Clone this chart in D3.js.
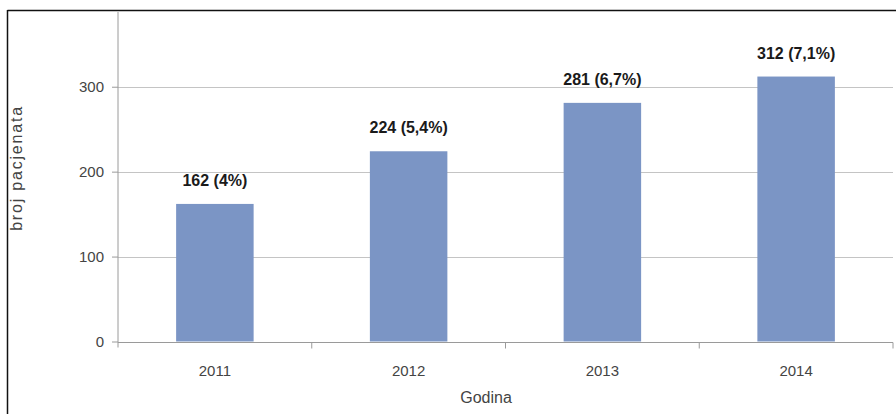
<!DOCTYPE html>
<html>
<head>
<meta charset="utf-8">
<script src="https://cdn.jsdelivr.net/npm/d3@7"></script>
<style>
  html, body { margin: 0; padding: 0; background: #fff; }
  svg { display: block; }
  text { font-family: "Liberation Sans", Arial, sans-serif; }
</style>
</head>
<body>
<svg id="chart" width="896" height="414"></svg>
<script>
// ---- data ----
const categories = ["2011", "2012", "2013", "2014"];
const values = [162, 224, 281, 312];
const labels = ["162 (4%)", "224 (5,4%)", "281 (6,7%)", "312 (7,1%)"];
const yTicks = [0, 100, 200, 300];
const yAxisTitle = "broj pacjenata";
const xAxisTitle = "Godina";

// ---- layout ----
const W = 896, H = 414;
const plot = { left: 118, right: 893, top: 12, bottom: 341.5 };
const yMax = 388;

const svg = d3.select("#chart");

// outer border (top & left visible)
svg.append("line").attr("x1", 7.5).attr("x2", 896).attr("y1", 10.5).attr("y2", 10.5)
  .attr("stroke", "#111").attr("stroke-width", 1.5);
svg.append("line").attr("x1", 7.5).attr("x2", 7.5).attr("y1", 10).attr("y2", 414)
  .attr("stroke", "#111").attr("stroke-width", 1.5);

const x = d3.scaleBand().domain(categories).range([plot.left, plot.right])
  .paddingInner(0.6).paddingOuter(0.3);
const y = d3.scaleLinear().domain([0, yMax]).range([plot.bottom, plot.top]);

// gridlines
svg.append("g").selectAll("line").data(yTicks.filter(d => d > 0)).join("line")
  .attr("x1", plot.left).attr("x2", plot.right)
  .attr("y1", d => Math.round(y(d)) + 0.5).attr("y2", d => Math.round(y(d)) + 0.5)
  .attr("stroke", "#c4c4c4").attr("stroke-width", 1);

// y axis
const yAxis = d3.axisLeft(y).tickValues(yTicks).tickSize(6).tickPadding(8);
const gy = svg.append("g").attr("transform", `translate(${plot.left},0)`).call(yAxis);
gy.select(".domain").remove();
gy.append("line").attr("x1", 0).attr("x2", 0).attr("y1", plot.top).attr("y2", plot.bottom + 6)
  .attr("stroke", "#9a9a9a");
gy.selectAll(".tick line").attr("stroke", "#9a9a9a");
gy.selectAll(".tick text").attr("fill", "#444").style("font-size", "15px")
  .style("font-family", "'Liberation Sans', Arial, sans-serif");

// bars
svg.append("g").selectAll("rect").data(values).join("rect")
  .attr("x", (d, i) => x(categories[i]))
  .attr("y", d => y(d))
  .attr("width", x.bandwidth())
  .attr("height", d => y(0) - y(d))
  .attr("fill", "#7b95c5");

// x axis
const xb = d3.scaleBand().domain(categories).range([plot.left, plot.right]);
const gx = svg.append("g").attr("transform", `translate(0,${Math.round(plot.bottom) + 0.5})`);
gx.append("line").attr("x1", plot.left).attr("x2", plot.right).attr("stroke", "#9a9a9a");
gx.selectAll(".sep").data(categories.slice(1).concat(["end"])).join("line")
  .attr("class", "sep")
  .attr("x1", (d, i) => plot.left + (i + 1) * xb.step())
  .attr("x2", (d, i) => plot.left + (i + 1) * xb.step())
  .attr("y1", 0).attr("y2", 6).attr("stroke", "#9a9a9a");
gx.selectAll(".xl").data(categories).join("text")
  .attr("class", "xl")
  .attr("x", d => x(d) + x.bandwidth() / 2)
  .attr("y", 33)
  .attr("text-anchor", "middle")
  .attr("fill", "#444")
  .style("font-size", "15px")
  .text(d => d);

// data labels
svg.append("g").selectAll("text").data(values).join("text")
  .attr("x", (d, i) => x(categories[i]) + x.bandwidth() / 2)
  .attr("y", d => y(d) - 18)
  .attr("text-anchor", "middle")
  .attr("fill", "#1a1a1a")
  .style("font-size", "16px")
  .style("font-weight", "bold")
  .text((d, i) => labels[i]);

// axis titles
svg.append("text")
  .attr("transform", "translate(22,168) rotate(-90)")
  .attr("text-anchor", "middle")
  .attr("fill", "#444")
  .style("font-size", "16px")
  .style("letter-spacing", "1.8px")
  .text(yAxisTitle);

svg.append("text")
  .attr("x", 486).attr("y", 403)
  .attr("text-anchor", "middle")
  .attr("fill", "#444")
  .style("font-size", "16px")
  .text(xAxisTitle);
</script>
</body>
</html>
